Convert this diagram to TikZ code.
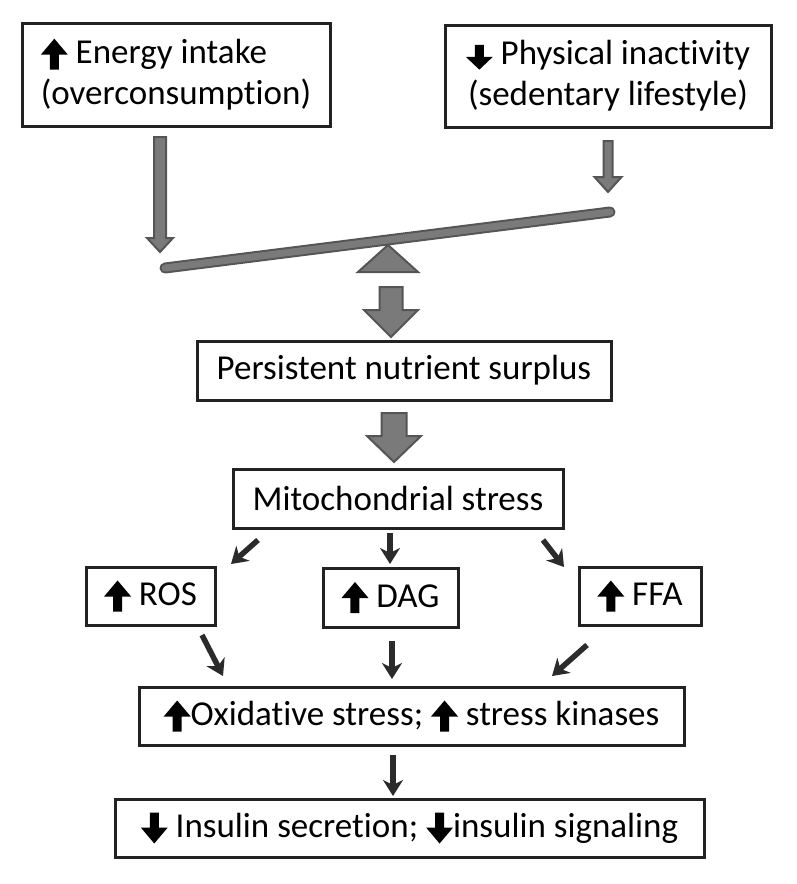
\documentclass[tikz,border=0pt]{standalone}
\usepackage{fontspec}
\setmainfont{Carlito}[Ligatures=NoCommon]
\usetikzlibrary{arrows.meta,calc}
\definecolor{gfill}{HTML}{7A7A7A}
\definecolor{gline}{HTML}{555555}
\definecolor{bline}{HTML}{222222}
\definecolor{aline}{HTML}{2B2B2B}
\newcommand{\upar}[1][1]{\tikz[baseline=0pt,x=1pt,y=#1pt]\fill[black] (-4.5,-6) -- (-4.5,9) -- (-13.5,9) -- (0,25) -- (13.5,9) -- (4.5,9) -- (4.5,-6) -- cycle;}
\newcommand{\dnar}[1][1]{\tikz[baseline=0pt,x=1pt,y=#1pt]\fill[black] (-4.5,25) -- (-4.5,10) -- (-13.5,10) -- (0,-6) -- (13.5,10) -- (4.5,10) -- (4.5,25) -- cycle;}
\newcommand{\garrow}[5]{%
  \filldraw[garr] let \p1=(#1), \p2=(#2) in
    (\x1-#3,\y1) -- (\x1+#3,\y1) -- (\x1+#3,\y2+#5) -- (\x1+#4,\y2+#5) --
    (\x2,\y2) -- (\x1-#4,\y2+#5) -- (\x1-#3,\y2+#5) -- cycle;}
\begin{document}
\begin{tikzpicture}[x=1pt,y=-1pt,
  box/.style={draw=bline, line width=3pt, fill=white, inner sep=0pt,
    font=\fontsize{35}{41}\selectfont},
  garr/.style={fill=gfill, draw=gline, line width=2pt, line join=miter},
  sarrow/.style={draw=aline, line width=5.5pt,
    -{Stealth[length=16pt,width=20pt,inset=5pt]}}]
\useasboundingbox (0,0) rectangle (797,884);

% boxes
\node[box, minimum width=308pt, minimum height=103pt, align=left] (energy) at (176,74.5)
  {\upar{} Energy intake\\(overconsumption)};
\node[box, minimum width=326pt, minimum height=102pt, align=center] (phys) at (608,76)
  {\dnar[0.8] Physical inactivity\\(sedentary lifestyle)};
\node[box, minimum width=414pt, minimum height=59pt] (surplus) at (404,370.5)
  {Persistent nutrient surplus};
\node[box, minimum width=330pt, minimum height=59pt] (mito) at (398,498.5)
  {Mitochondrial stress};
\node[box, minimum width=129pt, minimum height=58pt] (ros) at (150.5,596)
  {\upar{} ROS};
\node[box, minimum width=135pt, minimum height=59pt] (dag) at (390.5,597.5)
  {\upar{} DAG};
\node[box, minimum width=122pt, minimum height=58pt] (ffa) at (640,596)
  {\upar{} FFA};
\node[box, minimum width=545pt, minimum height=58pt] (ox) at (411.5,716)
  {\upar{}Oxidative stress; \upar{} stress kinases};
\node[box, minimum width=589pt, minimum height=58pt] (ins) at (409.5,828)
  {\dnar{} Insulin secretion; \dnar{}insulin signaling};

% seesaw
\coordinate (beamL) at (165,268);
\coordinate (beamR) at (610,212);
\draw[gline, line width=11pt, line cap=round] (beamL) -- (beamR);
\draw[gfill, line width=7pt, line cap=round] (beamL) -- (beamR);
\coordinate (apex) at (388,245);
\filldraw[garr] (apex) -- (418,272) -- (358,272) -- cycle;

% grey block arrows
\coordinate (g1s) at (160,137); \coordinate (g1e) at (160,252);
\garrow{g1s}{g1e}{6pt}{13pt}{14pt}
\coordinate (g2s) at (608,141); \coordinate (g2e) at (608,192);
\garrow{g2s}{g2e}{4.5pt}{13.5pt}{15pt}
\coordinate (g3s) at (391,287); \coordinate (g3e) at (391,337);
\garrow{g3s}{g3e}{11.5pt}{27pt}{27pt}
\coordinate (g4s) at (394,413); \coordinate (g4e) at (394,462);
\garrow{g4s}{g4e}{12.5pt}{27pt}{26pt}

% small arrows
\coordinate (m1s) at (258,540); \coordinate (m1e) at (231,564);
\coordinate (m2s) at (390,533); \coordinate (m2e) at (390,564);
\coordinate (m3s) at (543,540); \coordinate (m3e) at (564,567);
\coordinate (o1s) at (202,635); \coordinate (o1e) at (223,676);
\coordinate (o2s) at (392,641); \coordinate (o2e) at (392,679);
\coordinate (o3s) at (587,645); \coordinate (o3e) at (552,676);
\coordinate (i1s) at (393,755); \coordinate (i1e) at (393,796);
\draw[sarrow] (m1s) -- (m1e);
\draw[sarrow] (m2s) -- (m2e);
\draw[sarrow] (m3s) -- (m3e);
\draw[sarrow] (o1s) -- (o1e);
\draw[sarrow] (o2s) -- (o2e);
\draw[sarrow] (o3s) -- (o3e);
\draw[sarrow] (i1s) -- (i1e);
\end{tikzpicture}
\end{document}
